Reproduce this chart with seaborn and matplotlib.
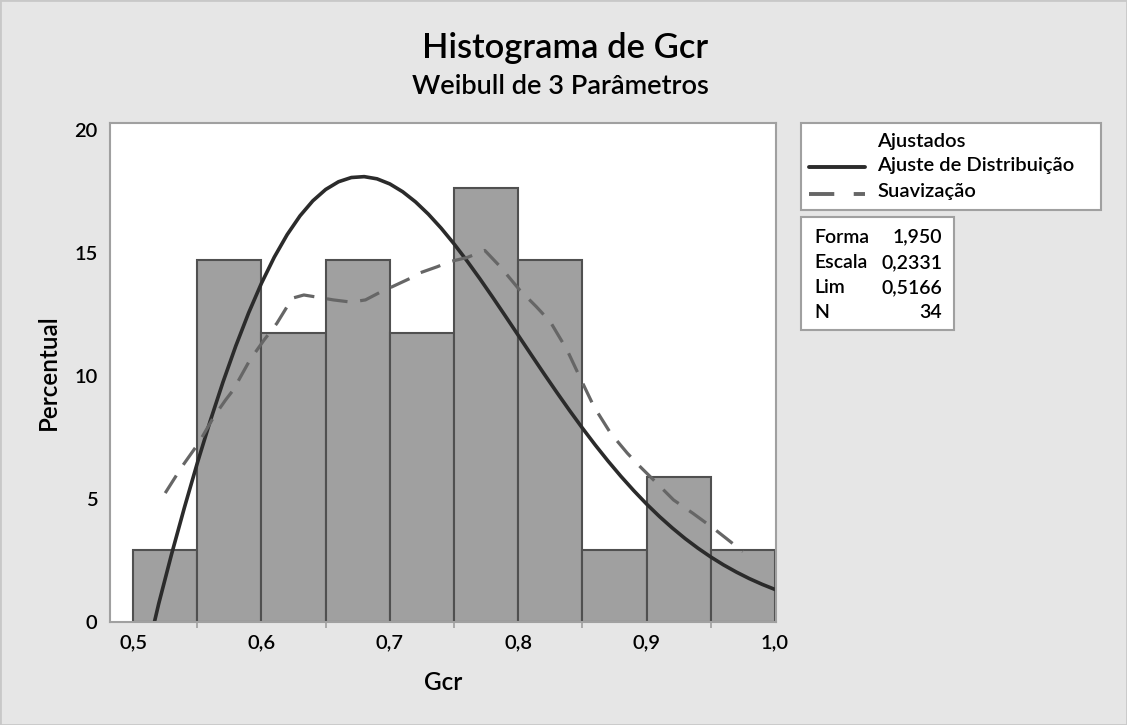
import numpy as np
import pandas as pd
import matplotlib
matplotlib.use("Agg")
import matplotlib.pyplot as plt
import seaborn as sns
from matplotlib.patches import Rectangle
from matplotlib.lines import Line2D

# ---------------- data ----------------
bin_edges = [0.50, 0.55, 0.60, 0.65, 0.70, 0.75, 0.80, 0.85, 0.90, 0.95, 1.00]
bin_counts = [1, 5, 4, 5, 4, 6, 5, 1, 2, 1]
n_total = 34

fit_x = [0.5166, 0.52, 0.53, 0.54, 0.55, 0.56, 0.57, 0.58, 0.59, 0.60, 0.61, 0.62,
         0.63, 0.64, 0.65, 0.66, 0.67, 0.68, 0.69, 0.70, 0.71, 0.72, 0.73, 0.74,
         0.75, 0.76, 0.77, 0.78, 0.79, 0.80, 0.81, 0.82, 0.83, 0.84, 0.85, 0.86,
         0.87, 0.88, 0.89, 0.90, 0.91, 0.92, 0.93, 0.94, 0.95, 0.96, 0.97, 0.98,
         0.99, 1.00]
fit_y = [0.0, 0.754, 2.764, 4.658, 6.457, 8.158, 9.749, 11.220, 12.564, 13.769, 14.831,
         15.743, 16.505, 17.117, 17.578, 17.892, 18.064, 18.100, 18.011, 17.803, 17.486,
         17.074, 16.575, 16.003, 15.368, 14.683, 13.959, 13.205, 12.433, 11.652, 10.871,
         10.096, 9.336, 8.595, 7.880, 7.193, 6.539, 5.920, 5.339, 4.793, 4.288, 3.822,
         3.391, 3.000, 2.642, 2.318, 2.027, 1.764, 1.531, 1.322]

smooth_x = [0.525, 0.538, 0.551, 0.563, 0.572, 0.578, 0.591, 0.602, 0.612, 0.624,
            0.633, 0.646, 0.656, 0.670, 0.681, 0.692, 0.702, 0.716, 0.724, 0.737,
            0.747, 0.760, 0.774, 0.786, 0.801, 0.814, 0.825, 0.838, 0.849, 0.859,
            0.872, 0.885, 0.895, 0.908, 0.921, 0.936, 0.952, 0.962, 0.975]
smooth_y = [5.24, 6.31, 7.27, 8.35, 9.02, 9.43, 10.65, 11.46, 12.14, 13.16,
            13.29, 13.18, 13.09, 13.00, 13.09, 13.39, 13.63, 13.97, 14.20, 14.44,
            14.65, 14.81, 15.10, 14.44, 13.50, 12.82, 12.20, 11.06, 9.84, 8.75,
            7.67, 6.86, 6.31, 5.64, 4.96, 4.42, 3.81, 3.40, 2.86]

x_ticks = [0.5, 0.6, 0.7, 0.8, 0.9, 1.0]
x_tick_labels = ["0,5", "0,6", "0,7", "0,8", "0,9", "1,0"]
x_minor_ticks = [0.55, 0.65, 0.75, 0.85, 0.95]
y_ticks = [0, 5, 10, 15, 20]
y_tick_labels = ["0", "5", "10", "15", "20"]

title = "Histograma de Gcr"
subtitle = "Weibull de 3 Parâmetros"
x_label = "Gcr"
y_label = "Percentual"
legend_title = "Ajustados"
legend_labels = ["Ajuste de Distribuição", "Suavização"]
stats_labels = ["Forma", "Escala", "Lim", "N"]
stats_values = ["1,950", "0,2331", "0,5166", "34"]

# ---------------- style ----------------
sns.set_theme(style="white")
plt.rcParams['font.family'] = ['Lato', 'DejaVu Sans']
plt.rcParams['text.color'] = 'black'
plt.rcParams['axes.labelcolor'] = 'black'

W, H = 1127, 725
BG = "#e6e6e6"
FRAME = "#a0a0a0"
BAR = "#a0a0a0"
BAR_EDGE = "#505050"
FIT_C = "#2b2b2b"
SM_C = "#666666"
WT = "semibold"

fig = plt.figure(figsize=(W / 100, H / 100), dpi=100, facecolor=BG)

def fx(px):
    return px / W

def fy(py):
    return 1 - py / H

ax = fig.add_axes([fx(110), fy(622), fx(776) - fx(110), fy(123) - fy(622)])
ax.set_facecolor("white")

centers = [(bin_edges[i] + bin_edges[i + 1]) / 2 for i in range(len(bin_counts))]
percent = [c / n_total * 100 for c in bin_counts]
df = pd.DataFrame({"x": centers, "w": percent})
sns.histplot(data=df, x="x", weights="w", bins=bin_edges, ax=ax,
             color=BAR, edgecolor=BAR_EDGE, linewidth=1.5, alpha=1.0)

sns.lineplot(x=fit_x, y=fit_y, ax=ax, color=FIT_C, lw=2.6, sort=False)
sns.lineplot(x=smooth_x, y=smooth_y, ax=ax, color=SM_C, lw=2.3,
             linestyle=(0, (6.5, 4)), sort=False)

ax.set_xlim(0.482, 1.0008)
ax.set_ylim(0, 20.28)
ax.set_xticks(x_ticks)
ax.set_xticklabels(x_tick_labels)
ax.set_xticks(x_minor_ticks, minor=True)
ax.set_yticks(y_ticks)
ax.set_yticklabels(y_tick_labels)
ax.tick_params(axis="both", which="major", direction="out", length=6, width=1.5,
               color=FRAME, labelsize=14.5, labelcolor="black", pad=3)
ax.tick_params(axis="x", which="minor", direction="out", length=4, width=1.2,
               color=FRAME, bottom=True)
for lab in ax.get_xticklabels() + ax.get_yticklabels():
    lab.set_fontweight(WT)
for s in ax.spines.values():
    s.set_color(FRAME)
    s.set_linewidth(1.5)
ax.set_xlabel(x_label, fontsize=17.5, labelpad=14, fontweight=WT)
ax.set_ylabel(y_label, fontsize=17.5, labelpad=10, fontweight=WT)

# titles
fig.text(fx(565), fy(48), title, ha="center", va="center", fontsize=24.8,
         fontweight=WT)
fig.text(fx(560), fy(86), subtitle, ha="center", va="center", fontsize=19.5,
         fontweight=WT)

# legend box
fig.patches.append(Rectangle((fx(801), fy(210)), fx(1101) - fx(801), fy(123) - fy(210),
                             transform=fig.transFigure, facecolor="white",
                             edgecolor=FRAME, linewidth=1.5))
LFS = 14.5
fig.text(fx(877), fy(141), legend_title, ha="left", va="center", fontsize=LFS,
         fontweight=WT)
fig.text(fx(877), fy(166), legend_labels[0], ha="left", va="center", fontsize=LFS,
         fontweight=WT)
fig.text(fx(877), fy(192), legend_labels[1], ha="left", va="center", fontsize=LFS,
         fontweight=WT)
fig.lines.append(Line2D([fx(809), fx(865)], [fy(167), fy(167)], transform=fig.transFigure,
                        color=FIT_C, lw=2.8))
fig.lines.append(Line2D([fx(809), fx(865)], [fy(194), fy(194)], transform=fig.transFigure,
                        color=SM_C, lw=2.8, linestyle=(0, (6.5, 5))))

# stats box
fig.patches.append(Rectangle((fx(801), fy(330)), fx(954) - fx(801), fy(217) - fy(330),
                             transform=fig.transFigure, facecolor="white",
                             edgecolor=FRAME, linewidth=1.5))
SFS = 14
for i, (lab, val) in enumerate(zip(stats_labels, stats_values)):
    yy = fy(237 + i * 25.3)
    fig.text(fx(814), yy, lab, ha="left", va="center", fontsize=SFS, fontweight=WT)
    fig.text(fx(942), yy, val, ha="right", va="center", fontsize=SFS, fontweight=WT)

# outer border
fig.patches.append(Rectangle((0, 0), 1, 1, transform=fig.transFigure, fill=False,
                             edgecolor="#c8c8c8", linewidth=2))

fig.savefig("out.png", dpi=100, facecolor=BG)
